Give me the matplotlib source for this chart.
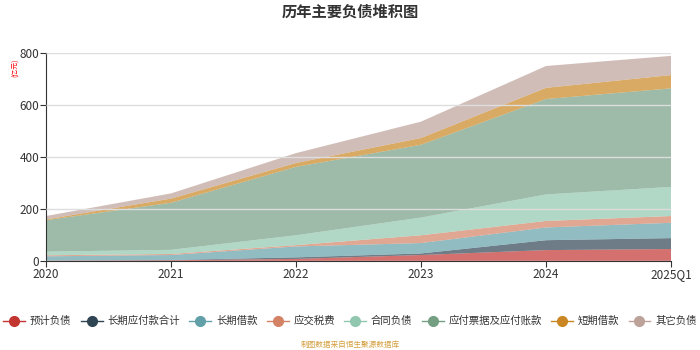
import matplotlib
matplotlib.use("Agg")
import matplotlib.pyplot as plt
from matplotlib.lines import Line2D
import numpy as np

plt.rcParams['font.family'] = ['Noto Sans CJK SC', 'DejaVu Sans']

years = ["2020", "2021", "2022", "2023", "2024", "2025Q1"]

# 单位：亿元，自下而上堆积
yujifuzhai = [1, 3, 8, 23, 42, 46]          # 预计负债
changqi_yingfu = [1, 1, 6, 6, 38, 42]      # 长期应付款合计
changqi_jiekuan = [16, 19, 42, 40, 49, 59] # 长期借款
yingjiao_shuifei = [4, 4, 5, 30, 25, 26]   # 应交税费
hetong_fuzhai = [14, 16, 38, 68, 102, 112] # 合同负债
yingfu_zhangkuan = [121, 181, 263, 280, 367, 379]  # 应付票据及应付账款
duanqi_jiekuan = [3, 16, 15, 26, 43, 51]   # 短期借款
qita_fuzhai = [13, 20, 38, 63, 84, 74]     # 其它负债

names = ["预计负债", "长期应付款合计", "长期借款", "应交税费",
         "合同负债", "应付票据及应付账款", "短期借款", "其它负债"]
series = [yujifuzhai, changqi_yingfu, changqi_jiekuan, yingjiao_shuifei,
          hetong_fuzhai, yingfu_zhangkuan, duanqi_jiekuan, qita_fuzhai]
colors = ["#c23531", "#2f4554", "#61a0a8", "#d48265",
          "#91c7ae", "#749f83", "#ca8622", "#bda29a"]

fig = plt.figure(figsize=(7, 3.5), dpi=100)
ax = fig.add_axes([46 / 700, 1 - 261 / 350, 625 / 700, 208 / 350])

x = np.arange(len(years))
ax.stackplot(x, *series, colors=colors, alpha=0.7, linewidth=0)

ax.set_xlim(0, len(years) - 1)
ax.set_ylim(0, 800)
ax.set_yticks([0, 200, 400, 600, 800])
ax.set_xticks(x)
ax.set_xticklabels(years)
ax.tick_params(axis='both', labelsize=8.5, colors='#333333', length=4, width=0.8)
ax.tick_params(axis='y', length=4, pad=1)
ax.tick_params(axis='x', pad=1)
ax.grid(axis='y', color='#dddddd', linewidth=1)
ax.set_axisbelow(False)
for s in ['top', 'right']:
    ax.spines[s].set_visible(False)
for s in ['left', 'bottom']:
    ax.spines[s].set_color('#333333')
    ax.spines[s].set_linewidth(0.8)

fig.text(0.5, 1 - 12 / 350, "历年主要负债堆积图", ha='center', va='center',
         fontsize=11, fontweight='bold', color='#333333')
fig.text(16 / 700, 1 - 68 / 350, "(亿元)", rotation=90, ha='center', va='center',
         fontsize=5, color='#ff0000')

handles = [Line2D([0], [0], color=c, marker='o', markersize=7, linewidth=1)
           for c in colors]
fig.legend(handles, names, loc='center', bbox_to_anchor=(0.5, 1 - 321 / 350),
           ncol=8, frameon=False, fontsize=7.5, handlelength=2.1,
           handletextpad=0.45, columnspacing=0.9, labelcolor='#333333',
           borderaxespad=0, borderpad=0)

fig.text(0.5, 1 - 345 / 350, "制图数据来自恒生聚源数据库", ha='center', va='center',
         fontsize=5.5, color='#d4a040')

fig.savefig("out.png", dpi=100)
